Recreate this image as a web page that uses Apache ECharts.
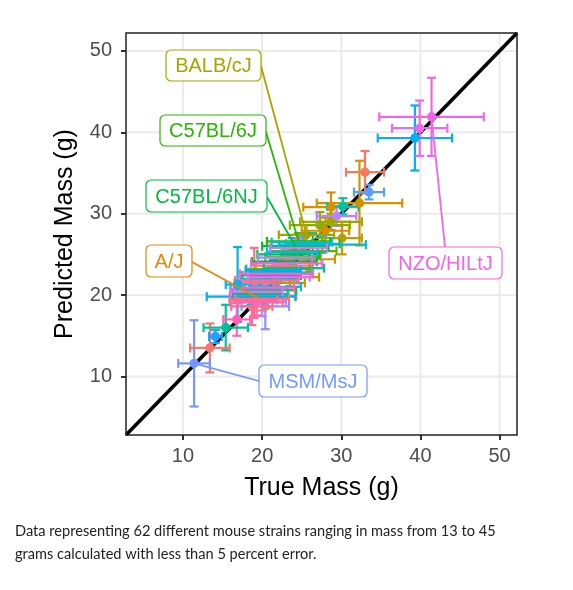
<!DOCTYPE html>
<html>
<head>
<meta charset="utf-8">
<script src="https://cdn.jsdelivr.net/npm/echarts@6/dist/echarts.min.js"></script>
<style>
html,body{margin:0;padding:0;background:#fff;}
#c{width:573px;height:590px;}
</style>
</head>
<body>
<div id="c"></div>
<script>
// ---- Data (one entry per strain, index = strain order / colour order) ----
const trueMass = [13.4, 33.0, 22.8, 20.5, 19.4, 28.0, 28.7, 32.3, 26.0, 23.5,
  30.1, 21.6, 25.6, 28.7, 27.3, 23.9, 22.0, 25.2, 20.9, 24.6,
  22.8, 24.2, 23.3, 21.2, 26.4, 19.8, 24.0, 15.4, 20.9, 30.2,
  22.4, 25.0, 19.6, 21.7, 27.6, 23.8, 16.9, 39.3, 18.6, 21.4,
  14.1, 33.5, 11.4, 20.4, 22.9, 20.0, 29.4, 24.6, 19.3, 22.1,
  39.9, 41.4, 23.1, 20.2, 21.8, 18.9, 16.8, 20.6, 19.3, 18.7,
  19.0, 20.0];
const predMass = [13.5, 35.1, 23.6, 19.9, 19.7, 27.9, 30.8, 31.3, 24.4, 22.2,
  27.0, 21.5, 27.4, 29.0, 28.6, 24.7, 23.2, 25.4, 20.6, 26.6,
  24.1, 26.0, 25.0, 22.4, 26.3, 20.1, 23.3, 16.0, 22.0, 30.9,
  22.8, 26.5, 20.7, 21.0, 26.2, 25.3, 21.3, 39.3, 19.8, 23.0,
  14.9, 32.65, 11.6, 18.6, 24.6, 19.2, 29.7, 25.8, 20.4, 22.2,
  40.5, 41.9, 23.9, 20.9, 22.6, 19.4, 17.0, 21.8, 19.1, 18.6,
  21.5, 19.5];
const trueSD = [2.5, 2.4, 3.6, 3.8, 3.5, 3.0, 3.5, 5.4, 3.2, 3.7,
  2.5, 3.8, 3.5, 3.9, 3.8, 3.5, 4.0, 4.2, 3.4, 4.0,
  4.1, 4.2, 3.9, 3.7, 3.4, 3.5, 3.8, 2.8, 3.6, 2.0,
  4.0, 3.8, 3.6, 3.2, 5.5, 3.2, 1.5, 4.7, 5.6, 3.5,
  0.8, 1.9, 2.0, 3.0, 3.4, 3.0, 2.5, 3.6, 3.3, 3.9,
  3.5, 6.6, 4.5, 3.8, 4.6, 3.0, 1.7, 4.0, 3.3, 2.6,
  2.5, 3.4];
const predSD = [3.0, 2.6, 1.2, 1.5, 1.0, 1.6, 1.8, 5.2, 1.4, 1.1,
  2.0, 1.4, 1.2, 1.0, 1.6, 1.0, 1.2, 1.0, 1.1, 1.0,
  1.0, 1.0, 1.1, 1.0, 1.3, 1.2, 1.5, 2.8, 1.0, 1.0,
  1.3, 1.0, 1.4, 1.2, 1.0, 1.7, 4.6, 4.0, 1.0, 1.3,
  0.8, 0.9, 5.3, 2.8, 1.0, 1.8, 1.2, 1.1, 1.5, 1.5,
  3.4, 4.8, 1.0, 1.3, 1.2, 2.2, 2.0, 1.0, 1.6, 2.3,
  4.3, 1.4];
// labelled strains and their index in the arrays above
const labelNames = ['BALB/cJ', 'C57BL/6J', 'C57BL/6NJ', 'A/J', 'NZO/HILtJ', 'MSM/MsJ'];
const labelIndex = [12, 19, 21, 4, 51, 42];
const tickValues = [10, 20, 30, 40, 50];
const axisRange = [2.8, 52.2];
const xTitle = 'True Mass (g)';
const yTitle = 'Predicted Mass (g)';
const caption1 = 'Data representing 62 different mouse strains ranging in mass from 13 to 45';
const caption2 = 'grams calculated with less than 5 percent error.';

// ---- Style: ggplot-like hue palette ----
function hcl(h, c, l) {
  const hr = h * Math.PI / 180;
  const U = c * Math.cos(hr), V = c * Math.sin(hr);
  const Xn = 95.047, Yn = 100, Zn = 108.883;
  const den = Xn + 15 * Yn + 3 * Zn;
  const un = 4 * Xn / den, vn = 9 * Yn / den;
  const Y = Yn * Math.pow((l + 16) / 116, 3);
  const up = U / (13 * l) + un, vp = V / (13 * l) + vn;
  const X = Y * 9 * up / (4 * vp);
  const Z = Y * (12 - 3 * up - 20 * vp) / (4 * vp);
  const x = X / 100, y = Y / 100, z = Z / 100;
  let rgb = [
    3.2404542 * x - 1.5371385 * y - 0.4985314 * z,
    -0.9692660 * x + 1.8760108 * y + 0.0415560 * z,
    0.0556434 * x - 0.2040259 * y + 1.0572252 * z
  ].map(v => {
    v = v <= 0.0031308 ? 12.92 * v : 1.055 * Math.pow(v, 1 / 2.4) - 0.055;
    return Math.round(Math.max(0, Math.min(1, v)) * 255);
  });
  return 'rgb(' + rgb.join(',') + ')';
}
const N = trueMass.length;
const palette = trueMass.map((_, i) => hcl(15 + 360 * i / N, 100, 65));

// label box layout (pixels) + point on the box where the leader starts
const labelBoxes = [
  {x: 166, y: 50, w: 95, h: 31, ax: 261, ay: 66},
  {x: 160, y: 115, w: 106, h: 31, ax: 266, ay: 132},
  {x: 146, y: 180, w: 121, h: 32, ax: 267, ay: 197},
  {x: 146, y: 245, w: 46, h: 32, ax: 192, ay: 262},
  {x: 389, y: 247, w: 113, h: 32, ax: 445, ay: 247},
  {x: 259, y: 365, w: 108, h: 32, ax: 259, ay: 381}
];

const items = trueMass.map((x, i) => [x, predMass[i], trueSD[i], predSD[i], i]);

const chart = echarts.init(document.getElementById('c'), null, {renderer: 'canvas'});
const CAP = 4.5, LW = 2.2;

function axisCfg(isX) {
  return {
    type: 'value', min: axisRange[0], max: axisRange[1],
    axisLine: {show: false},
    splitLine: {show: false},
    axisTick: {show: true, customValues: tickValues, length: 5, lineStyle: {color: '#333', width: 2}},
    axisLabel: {show: true, customValues: tickValues, color: '#4d4d4d', fontSize: 20,
      fontFamily: 'Liberation Sans', margin: isX ? 11 : 14}
  };
}

const option = {
  animation: false,
  backgroundColor: '#fff',
  grid: {left: 126, top: 33, width: 391, height: 402, show: true, borderColor: '#222', borderWidth: 1.5, backgroundColor: 'transparent', z: 10},
  xAxis: axisCfg(true),
  yAxis: axisCfg(false),
  series: [
    { // major grid lines
      type: 'custom', z: 1, silent: true, data: tickValues.map(v => [v]),
      renderItem: function (params, api) {
        const v = api.value(0);
        const cs = params.coordSys;
        const px = api.coord([v, axisRange[0]])[0];
        const py = api.coord([axisRange[0], v])[1];
        const st = {stroke: '#ebebeb', lineWidth: 2};
        return {type: 'group', children: [
          {type: 'line', shape: {x1: px, y1: cs.y, x2: px, y2: cs.y + cs.height}, style: st},
          {type: 'line', shape: {x1: cs.x, y1: py, x2: cs.x + cs.width, y2: py}, style: st}
        ]};
      }
    },
    { // identity line
      type: 'line', z: 2, silent: true, symbol: 'none',
      data: [[axisRange[0], axisRange[0]], [axisRange[1], axisRange[1]]],
      lineStyle: {color: '#000', width: 3.6}
    },
    { // points
      type: 'scatter', z: 3, silent: true, symbolSize: 9,
      data: items.map(d => [d[0], d[1], d[4]]),
      itemStyle: {color: p => palette[p.value[2]], opacity: 1}
    },
    { // vertical error bars
      type: 'custom', z: 4, silent: true, data: items,
      renderItem: function (params, api) {
        const x = api.value(0), y = api.value(1), ys = api.value(3), c = palette[api.value(4)];
        const t = api.coord([x, y + ys]), b = api.coord([x, y - ys]);
        const st = {stroke: c, lineWidth: LW};
        return {type: 'group', children: [
          {type: 'line', shape: {x1: t[0], y1: t[1], x2: b[0], y2: b[1]}, style: st},
          {type: 'line', shape: {x1: t[0] - CAP, y1: t[1], x2: t[0] + CAP, y2: t[1]}, style: st},
          {type: 'line', shape: {x1: b[0] - CAP, y1: b[1], x2: b[0] + CAP, y2: b[1]}, style: st}
        ]};
      }
    },
    { // horizontal error bars
      type: 'custom', z: 5, silent: true, data: items,
      renderItem: function (params, api) {
        const x = api.value(0), y = api.value(1), xs = api.value(2), c = palette[api.value(4)];
        const l = api.coord([x - xs, y]), r = api.coord([x + xs, y]);
        const st = {stroke: c, lineWidth: LW};
        return {type: 'group', children: [
          {type: 'line', shape: {x1: l[0], y1: l[1], x2: r[0], y2: r[1]}, style: st},
          {type: 'line', shape: {x1: l[0], y1: l[1] - CAP, x2: l[0], y2: l[1] + CAP}, style: st},
          {type: 'line', shape: {x1: r[0], y1: r[1] - CAP, x2: r[0], y2: r[1] + CAP}, style: st}
        ]};
      }
    },
    { // outlying points drawn on top so they stay visible
      type: 'scatter', z: 6, silent: true, symbolSize: 9,
      data: items.filter(d => Math.abs(d[1] - 22.5) > 6 || d[0] < 17).map(d => [d[0], d[1], d[4]]),
      itemStyle: {color: p => palette[p.value[2]], opacity: 1}
    }
  ]
};
chart.setOption(option);

// labels with leader lines
const graphics = [];
labelNames.forEach((name, k) => {
  const i = labelIndex[k];
  const box = labelBoxes[k];
  const col = palette[i];
  const p = chart.convertToPixel({gridIndex: 0}, [trueMass[i], predMass[i]]);
  graphics.push({type: 'line', z: 100, shape: {x1: box.ax, y1: box.ay, x2: p[0], y2: p[1]}, style: {stroke: col, lineWidth: 1.8}});
  graphics.push({type: 'rect', z: 101, shape: {x: box.x, y: box.y, width: box.w, height: box.h, r: 5}, style: {fill: '#fff', stroke: col, lineWidth: 1.2}});
  graphics.push({type: 'text', z: 102, style: {x: box.x + box.w / 2, y: box.y + box.h / 2 + 1, text: name, fill: col,
    font: '20px "Liberation Sans", Arial, sans-serif', textAlign: 'center', textVerticalAlign: 'middle'}});
});
graphics.push({type: 'text', z: 102, style: {x: 321.5, y: 488, text: xTitle, fill: '#000',
  font: '25px "Liberation Sans", Arial, sans-serif', textAlign: 'center', textVerticalAlign: 'middle'}});
graphics.push({type: 'text', z: 102, x: 65, y: 234, rotation: Math.PI / 2, style: {x: 0, y: 0, text: yTitle, fill: '#000',
  font: '25px "Liberation Sans", Arial, sans-serif', textAlign: 'center', textVerticalAlign: 'middle'}});
graphics.push({type: 'text', z: 102, style: {x: 15, y: 531, text: caption1, fill: '#222',
  font: '14.6px Lato, sans-serif', textAlign: 'left', textVerticalAlign: 'middle'}});
graphics.push({type: 'text', z: 102, style: {x: 15, y: 554, text: caption2, fill: '#222',
  font: '14.6px Lato, sans-serif', textAlign: 'left', textVerticalAlign: 'middle'}});
chart.setOption({graphic: graphics});
</script>
</body>
</html>
